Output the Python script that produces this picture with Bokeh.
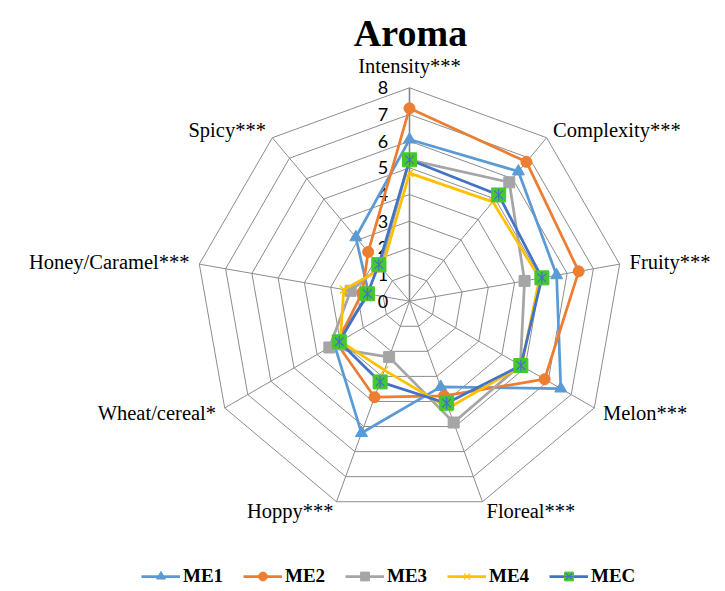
import math
from bokeh.plotting import figure
from bokeh.models import Range1d, Legend, LegendItem, Label
from bokeh.core.properties import value
from bokeh.embed import file_html
from bokeh.resources import INLINE

# ---------------- data ----------------
categories = ["Intensity***", "Complexity***", "Fruity***", "Melon***", "Floreal***",
              "Hoppy***", "Wheat/cereal*", "Honey/Caramel***", "Spicy***"]
tick_values = [0, 1, 2, 3, 4, 5, 6, 7, 8]
tick_labels = ["0", "1", "2", "3", "4", "5", "6", "7", "8"]

ME1 = [6.06, 6.35, 5.60, 6.55, 3.42, 5.26, 3.25, 1.55, 3.13]
ME2 = [7.23, 6.82, 6.44, 5.85, 3.78, 3.83, 3.15, 1.80, 2.41]
ME3 = [5.30, 5.82, 4.38, 4.80, 4.84, 2.23, 3.47, 2.24, 1.70]
ME4 = [4.80, 4.86, 4.95, 4.85, 4.26, 2.75, 3.00, 2.50, 1.60]
MEC = [5.30, 5.20, 5.04, 4.82, 4.07, 3.22, 3.04, 1.60, 1.79]

series_names = ["ME1", "ME2", "ME3", "ME4", "MEC"]
series_values = [ME1, ME2, ME3, ME4, MEC]
title_text = "Aroma"

# ---------------- layout ----------------
W, H = 717, 587
CX, CY = 409.0, 300.7        # radar centre in figure pixels (from top-left)
S = 213.4 / 8                # pixels per unit

p = figure(width=W, height=H, output_backend="svg", toolbar_location=None,
           x_range=Range1d(-CX / S, (W - CX) / S),
           y_range=Range1d(-(H - CY) / S, CY / S),
           x_axis_location=None, y_axis_location=None, min_border=0)
p.grid.visible = False
p.outline_line_color = None
p.background_fill_color = "white"
p.border_fill_color = "white"

n = len(categories)
angles = [2 * math.pi * i / n for i in range(n)]
rmax = tick_values[-1]

def pt(r, a):
    return r * math.sin(a), r * math.cos(a)

# rings
ring_xs, ring_ys = [], []
for k in tick_values[1:]:
    xs = [pt(k, a)[0] for a in angles] + [pt(k, angles[0])[0]]
    ys = [pt(k, a)[1] for a in angles] + [pt(k, angles[0])[1]]
    ring_xs.append(xs)
    ring_ys.append(ys)
p.multi_line(ring_xs, ring_ys, line_color="#8c8c8c", line_width=1)

# spokes
sp_xs = [[0, pt(rmax, a)[0]] for a in angles[1:]]
sp_ys = [[0, pt(rmax, a)[1]] for a in angles[1:]]
p.multi_line(sp_xs, sp_ys, line_color="#8c8c8c", line_width=1)
p.line([0, 0], [0, rmax], line_color="#868686", line_width=1.6)

# tick labels
p.text(x=[-0.8] * len(tick_values), y=tick_values, text=tick_labels,
       text_align="right", text_baseline="middle",
       text_font=value("Lato"), text_font_size="18px", text_color="black")

# category labels
for cat, a in zip(categories, angles):
    sa, ca = math.sin(a), math.cos(a)
    vx, vy = pt(rmax, a)
    if abs(sa) < 0.1:
        x, y, align = vx, vy + 0.8, "center"
    elif ca < -0.8:
        x = vx + (0.15 if sa > 0 else -0.11)
        y = vy - 0.33
        align = "left" if sa > 0 else "right"
    else:
        x, y = pt(rmax + 0.375, a)
        align = "left" if sa > 0 else "right"
    p.text(x=[x], y=[y], text=[cat], text_align=align, text_baseline="middle",
           text_font=value("Liberation Serif"), text_font_size="20.5px",
           text_color="black")

# series
colors = {"ME1": "#5B9BD5", "ME2": "#ED7D31", "ME3": "#A5A5A5",
          "ME4": "#FFC000", "MEC": "#4472C4"}
items = []
for name, vals in zip(series_names, series_values):
    xs = [pt(v, a)[0] for v, a in zip(vals, angles)]
    ys = [pt(v, a)[1] for v, a in zip(vals, angles)]
    c = colors[name]
    rl = p.line(xs + [xs[0]], ys + [ys[0]], line_color=c, line_width=2.75)
    rends = [rl]
    if name == "ME1":
        rends.append(p.scatter(xs, ys, marker="triangle", size=12, fill_color=c, line_color=c))
    elif name == "ME2":
        rends.append(p.scatter(xs, ys, marker="circle", size=11, fill_color=c, line_color=c))
    elif name == "ME3":
        rends.append(p.scatter(xs, ys, marker="square", size=11, fill_color=c, line_color=c))
    elif name == "ME4":
        rends.append(p.scatter(xs, ys, marker="x", size=11, line_color=c, line_width=1.2))
    else:
        rends.append(p.scatter(xs, ys, marker="square", size=14, fill_color="#45C82E",
                               line_color="#45C82E"))
        rends.append(p.scatter(xs, ys, marker="x", size=12, line_color=c, line_width=1.2))
        rends.append(p.scatter(xs, ys, marker="dash", angle=math.pi / 2, size=12,
                               line_color=c, line_width=1.2))
    items.append(LegendItem(label=name, renderers=rends))

legend = Legend(items=items, orientation="horizontal", location=(141, 0),
                glyph_width=39, glyph_height=22, label_height=22, label_width=45,
                label_standoff=3, spacing=15, padding=0, margin=0,
                label_text_font="Liberation Serif", label_text_font_style="bold",
                label_text_font_size="19px", label_text_color="black",
                border_line_alpha=0, background_fill_alpha=0)
p.add_layout(legend)

p.add_layout(Label(x=410, y=H - 32.3, x_units="screen", y_units="screen",
                   text=title_text, text_align="center", text_baseline="alphabetic",
                   text_font="Liberation Serif", text_font_style="bold",
                   text_font_size="38px", text_color="black"))

open("out.html", "w").write(file_html(p, INLINE))
